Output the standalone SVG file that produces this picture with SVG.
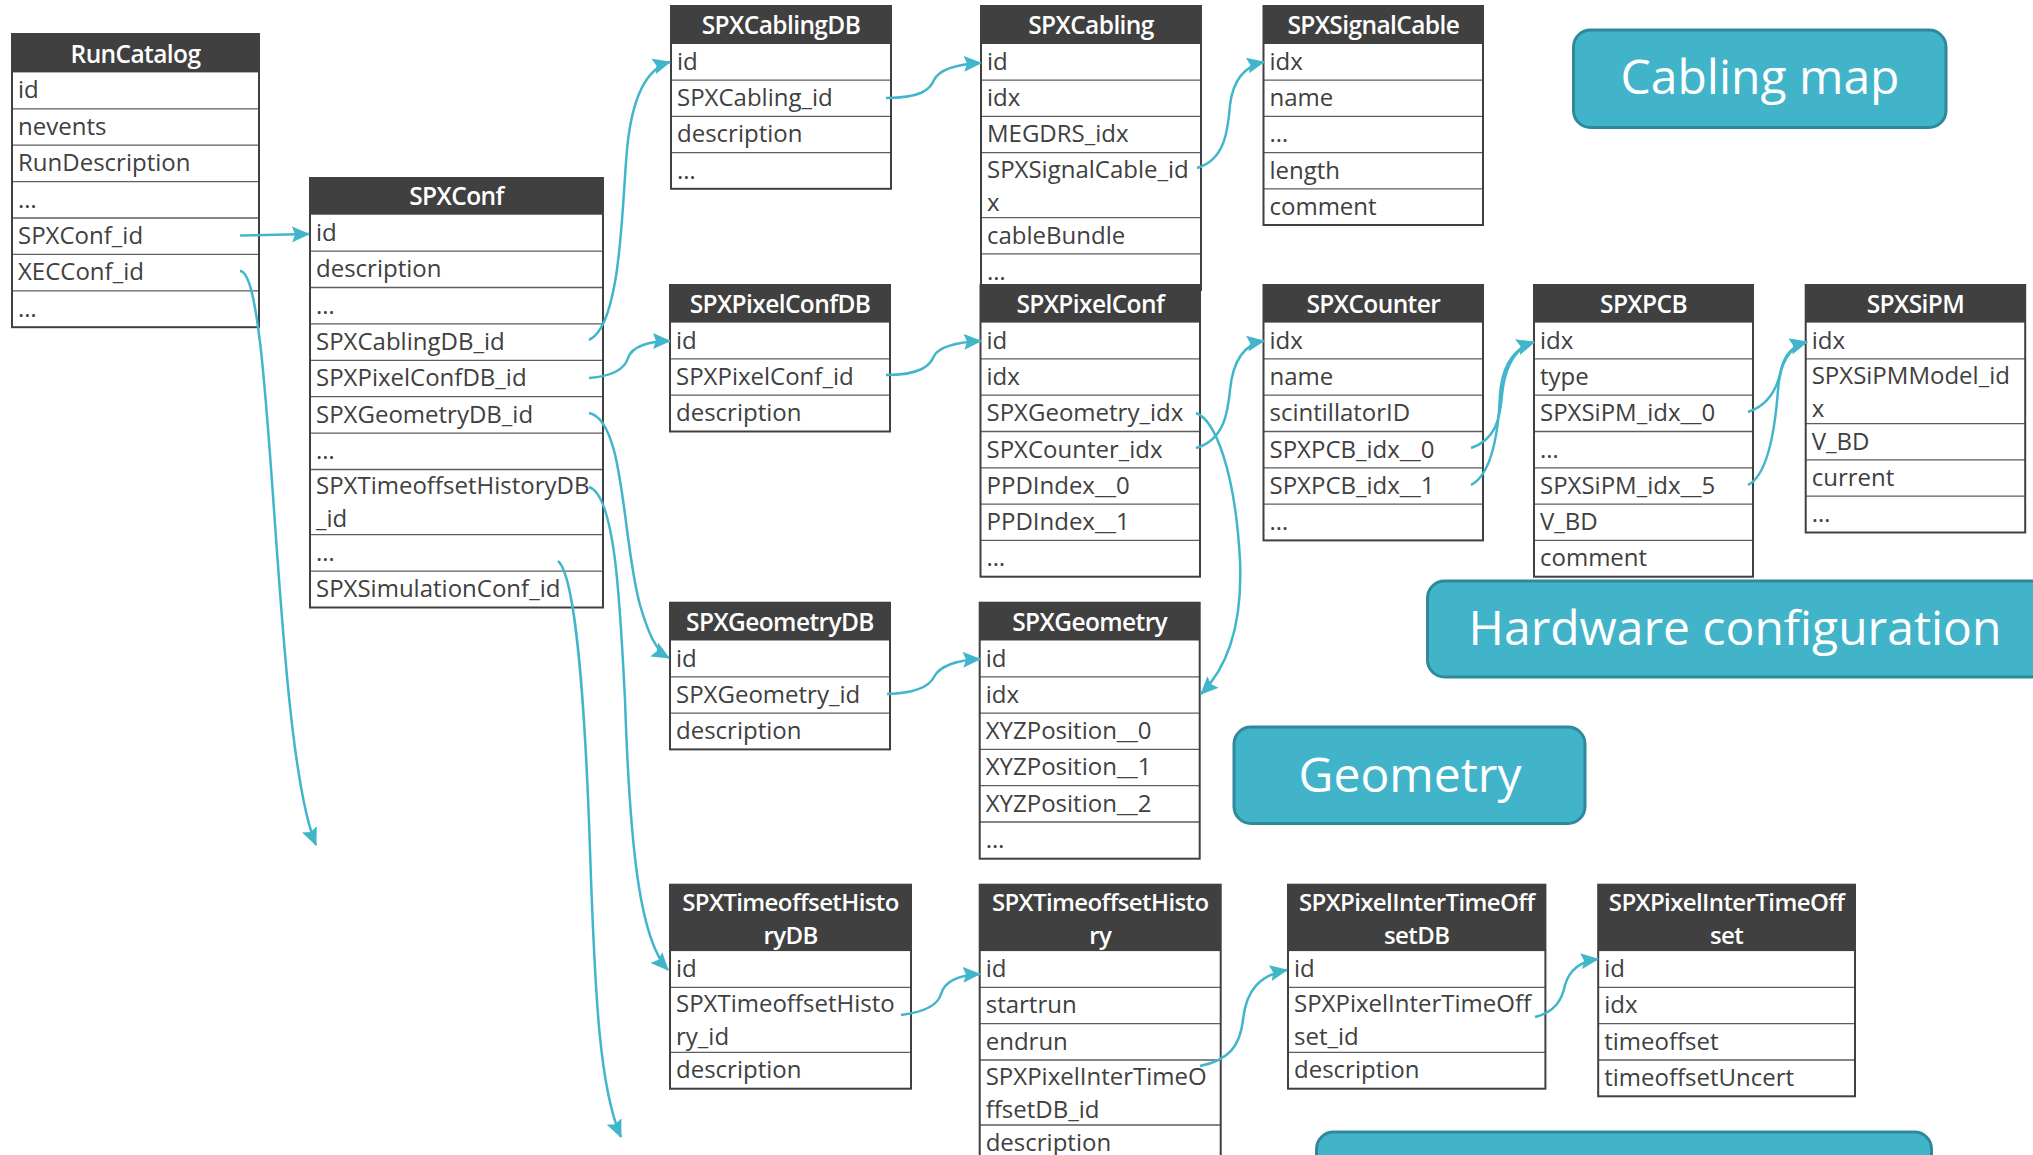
<svg xmlns="http://www.w3.org/2000/svg" width="2033" height="1155" viewBox="0 0 2033 1155">
  <style>
    .bg { fill: #ffffff; }
    .hd { fill: #404040; }
    .fr { fill: none; stroke: #404040; stroke-width: 2; }
    .sep { fill: none; stroke: #5e5e5e; stroke-width: 1.3; }
    .ht { font-family: "Open Sans", "Noto Sans", sans-serif; font-weight: 600; font-size: 24.5px; fill: #ffffff; text-anchor: middle; letter-spacing: -0.6px; }
    .ht2 { font-size: 24px; }
    .ft { font-family: "Open Sans", "Noto Sans", sans-serif; font-weight: 400; font-size: 24px; fill: #404040; }
    .lbl rect { fill: #42b4ca; stroke: #2e8a9b; stroke-width: 3; }
    .lbl text { font-family: "Open Sans", "Noto Sans", sans-serif; font-size: 48px; fill: #ffffff; text-anchor: middle; }
    .conn path { fill: none; stroke: #41b6cb; stroke-width: 2.5; marker-end: url(#arr); }
  </style>
  <defs>
    <marker id="arr" markerUnits="userSpaceOnUse" viewBox="0 0 18 16" markerWidth="18" markerHeight="16" refX="17" refY="8" orient="auto">
      <path d="M0,0 L18,8 L0,16 L3,8 z" fill="#41b6cb"/>
    </marker>
  </defs>

  <!-- category labels -->
  <g id="label-cabling" class="lbl">
    <rect x="1573.5" y="30" width="372.5" height="97.5" rx="17"/>
    <text x="1760" y="94">Cabling map</text>
  </g>
  <g id="label-hardware" class="lbl">
    <rect x="1427.5" y="581" width="640" height="96" rx="17"/>
    <text x="1735" y="645">Hardware configuration</text>
  </g>
  <g id="label-geometry" class="lbl">
    <rect x="1234" y="727" width="351" height="96.5" rx="17"/>
    <text x="1410" y="792">Geometry</text>
  </g>
  <g id="label-bottom" class="lbl">
    <rect x="1316.5" y="1132" width="615" height="96" rx="17"/>
  </g>

  <!-- tables -->
  <g id="runcatalog">
    <rect class="bg" x="12" y="34" width="247" height="293.2"/>
    <rect class="hd" x="12" y="34" width="247" height="38.4"/>
    <path class="sep" d="M12,108.8H259M12,145.2H259M12,181.6H259M12,218H259M12,254.4H259M12,290.8H259"/>
    <rect class="fr" x="12" y="34" width="247" height="293.2"/>
    <text class="ht" x="135.5" y="62.5">RunCatalog</text>
    <text class="ft" x="18" y="98.4">id</text>
    <text class="ft" x="18" y="134.8">nevents</text>
    <text class="ft" x="18" y="171.2">RunDescription</text>
    <text class="ft" x="18" y="207.6">…</text>
    <text class="ft" x="18" y="244">SPXConf_id</text>
    <text class="ft" x="18" y="280.4">XECConf_id</text>
    <text class="ft" x="18" y="316.8">…</text>
  </g>

  <g id="spxconf">
    <rect class="bg" x="310" y="178" width="293" height="429.5"/>
    <rect class="hd" x="310" y="178" width="293" height="36.7"/>
    <path class="sep" d="M310,251.1H603M310,287.5H603M310,323.9H603M310,360.3H603M310,396.7H603M310,433.1H603M310,469.5H603M310,534.7H603M310,571.1H603"/>
    <rect class="fr" x="310" y="178" width="293" height="429.5"/>
    <text class="ht" x="456.5" y="205.4">SPXConf</text>
    <text class="ft" x="316" y="240.7">id</text>
    <text class="ft" x="316" y="277.1">description</text>
    <text class="ft" x="316" y="313.5">…</text>
    <text class="ft" x="316" y="349.9">SPXCablingDB_id</text>
    <text class="ft" x="316" y="386.3">SPXPixelConfDB_id</text>
    <text class="ft" x="316" y="422.7">SPXGeometryDB_id</text>
    <text class="ft" x="316" y="459.1">…</text>
    <text class="ft" x="316" y="494"><tspan x="316">SPXTimeoffsetHistoryDB</tspan><tspan x="316" dy="33">_id</tspan></text>
    <text class="ft" x="316" y="560.7">…</text>
    <text class="ft" x="316" y="597.1">SPXSimulationConf_id</text>
  </g>

  <g id="spxcablingdb">
    <rect class="bg" x="671" y="6" width="220" height="182.8"/>
    <rect class="hd" x="671" y="6" width="220" height="38"/>
    <path class="sep" d="M671,80.2H891M671,116.4H891M671,152.6H891"/>
    <rect class="fr" x="671" y="6" width="220" height="182.8"/>
    <text class="ht" x="781" y="34">SPXCablingDB</text>
    <text class="ft" x="677" y="70">id</text>
    <text class="ft" x="677" y="106.2">SPXCabling_id</text>
    <text class="ft" x="677" y="142.4">description</text>
    <text class="ft" x="677" y="178.6">…</text>
  </g>

  <g id="spxcabling">
    <rect class="bg" x="981" y="6" width="220" height="284"/>
    <rect class="hd" x="981" y="6" width="220" height="38"/>
    <path class="sep" d="M981,80.2H1201M981,116.4H1201M981,152.6H1201M981,217.6H1201M981,253.8H1201"/>
    <rect class="fr" x="981" y="6" width="220" height="284"/>
    <text class="ht" x="1091" y="34">SPXCabling</text>
    <text class="ft" x="987" y="70">id</text>
    <text class="ft" x="987" y="106.2">idx</text>
    <text class="ft" x="987" y="142.4">MEGDRS_idx</text>
    <text class="ft" x="987" y="177.5"><tspan x="987">SPXSignalCable_id</tspan><tspan x="987" dy="33">x</tspan></text>
    <text class="ft" x="987" y="243.6">cableBundle</text>
    <text class="ft" x="987" y="279.8">…</text>
  </g>

  <g id="spxsignalcable">
    <rect class="bg" x="1263.5" y="6" width="219.5" height="219"/>
    <rect class="hd" x="1263.5" y="6" width="219.5" height="38"/>
    <path class="sep" d="M1263.5,80.2H1483M1263.5,116.4H1483M1263.5,152.6H1483M1263.5,188.8H1483"/>
    <rect class="fr" x="1263.5" y="6" width="219.5" height="219"/>
    <text class="ht" x="1373.3" y="34">SPXSignalCable</text>
    <text class="ft" x="1269.5" y="70">idx</text>
    <text class="ft" x="1269.5" y="106.2">name</text>
    <text class="ft" x="1269.5" y="142.4">…</text>
    <text class="ft" x="1269.5" y="178.6">length</text>
    <text class="ft" x="1269.5" y="214.8">comment</text>
  </g>

  <g id="spxpixelconfdb">
    <rect class="bg" x="670" y="285" width="220" height="146.5"/>
    <rect class="hd" x="670" y="285" width="220" height="37.6"/>
    <path class="sep" d="M670,358.9H890M670,395.2H890"/>
    <rect class="fr" x="670" y="285" width="220" height="146.5"/>
    <text class="ht" x="780" y="312.8">SPXPixelConfDB</text>
    <text class="ft" x="676" y="348.6">id</text>
    <text class="ft" x="676" y="384.9">SPXPixelConf_id</text>
    <text class="ft" x="676" y="421.2">description</text>
  </g>

  <g id="spxpixelconf">
    <rect class="bg" x="980.5" y="285" width="219.5" height="291.7"/>
    <rect class="hd" x="980.5" y="285" width="219.5" height="37.6"/>
    <path class="sep" d="M980.5,358.9H1200M980.5,395.2H1200M980.5,431.5H1200M980.5,467.8H1200M980.5,504.1H1200M980.5,540.4H1200"/>
    <rect class="fr" x="980.5" y="285" width="219.5" height="291.7"/>
    <text class="ht" x="1090.3" y="312.8">SPXPixelConf</text>
    <text class="ft" x="986.5" y="348.6">id</text>
    <text class="ft" x="986.5" y="384.9">idx</text>
    <text class="ft" x="986.5" y="421.2">SPXGeometry_idx</text>
    <text class="ft" x="986.5" y="457.5">SPXCounter_idx</text>
    <text class="ft" x="986.5" y="493.8">PPDIndex__0</text>
    <text class="ft" x="986.5" y="530.1">PPDIndex__1</text>
    <text class="ft" x="986.5" y="566.4">…</text>
  </g>

  <g id="spxcounter">
    <rect class="bg" x="1263.5" y="285" width="219.5" height="255.4"/>
    <rect class="hd" x="1263.5" y="285" width="219.5" height="37.6"/>
    <path class="sep" d="M1263.5,358.9H1483M1263.5,395.2H1483M1263.5,431.5H1483M1263.5,467.8H1483M1263.5,504.1H1483"/>
    <rect class="fr" x="1263.5" y="285" width="219.5" height="255.4"/>
    <text class="ht" x="1373.3" y="312.8">SPXCounter</text>
    <text class="ft" x="1269.5" y="348.6">idx</text>
    <text class="ft" x="1269.5" y="384.9">name</text>
    <text class="ft" x="1269.5" y="421.2">scintillatorID</text>
    <text class="ft" x="1269.5" y="457.5">SPXPCB_idx__0</text>
    <text class="ft" x="1269.5" y="493.8">SPXPCB_idx__1</text>
    <text class="ft" x="1269.5" y="530.1">…</text>
  </g>

  <g id="spxpcb">
    <rect class="bg" x="1534" y="285" width="219" height="291.7"/>
    <rect class="hd" x="1534" y="285" width="219" height="37.6"/>
    <path class="sep" d="M1534,358.9H1753M1534,395.2H1753M1534,431.5H1753M1534,467.8H1753M1534,504.1H1753M1534,540.4H1753"/>
    <rect class="fr" x="1534" y="285" width="219" height="291.7"/>
    <text class="ht" x="1643.5" y="312.8">SPXPCB</text>
    <text class="ft" x="1540" y="348.6">idx</text>
    <text class="ft" x="1540" y="384.9">type</text>
    <text class="ft" x="1540" y="421.2">SPXSiPM_idx__0</text>
    <text class="ft" x="1540" y="457.5">…</text>
    <text class="ft" x="1540" y="493.8">SPXSiPM_idx__5</text>
    <text class="ft" x="1540" y="530.1">V_BD</text>
    <text class="ft" x="1540" y="566.4">comment</text>
  </g>

  <g id="spxsipm">
    <rect class="bg" x="1805.7" y="285" width="219.5" height="247.5"/>
    <rect class="hd" x="1805.7" y="285" width="219.5" height="37.6"/>
    <path class="sep" d="M1805.7,358.9H2025.2M1805.7,423.6H2025.2M1805.7,459.9H2025.2M1805.7,496.2H2025.2"/>
    <rect class="fr" x="1805.7" y="285" width="219.5" height="247.5"/>
    <text class="ht" x="1915.5" y="312.8">SPXSiPM</text>
    <text class="ft" x="1811.7" y="348.6">idx</text>
    <text class="ft" x="1811.7" y="384"><tspan x="1811.7">SPXSiPMModel_id</tspan><tspan x="1811.7" dy="33">x</tspan></text>
    <text class="ft" x="1811.7" y="449.6">V_BD</text>
    <text class="ft" x="1811.7" y="485.9">current</text>
    <text class="ft" x="1811.7" y="522.2">…</text>
  </g>

  <g id="spxgeometrydb">
    <rect class="bg" x="670" y="602.7" width="220" height="146.7"/>
    <rect class="hd" x="670" y="602.7" width="220" height="37.8"/>
    <path class="sep" d="M670,676.8H890M670,713.1H890"/>
    <rect class="fr" x="670" y="602.7" width="220" height="146.7"/>
    <text class="ht" x="780" y="630.6">SPXGeometryDB</text>
    <text class="ft" x="676" y="666.5">id</text>
    <text class="ft" x="676" y="702.8">SPXGeometry_id</text>
    <text class="ft" x="676" y="739.1">description</text>
  </g>

  <g id="spxgeometry">
    <rect class="bg" x="979.7" y="602.7" width="220" height="256"/>
    <rect class="hd" x="979.7" y="602.7" width="220" height="37.8"/>
    <path class="sep" d="M979.7,676.8H1199.7M979.7,713.1H1199.7M979.7,749.4H1199.7M979.7,785.7H1199.7M979.7,822H1199.7"/>
    <rect class="fr" x="979.7" y="602.7" width="220" height="256"/>
    <text class="ht" x="1089.7" y="630.6">SPXGeometry</text>
    <text class="ft" x="985.7" y="666.5">id</text>
    <text class="ft" x="985.7" y="702.8">idx</text>
    <text class="ft" x="985.7" y="739.1">XYZPosition__0</text>
    <text class="ft" x="985.7" y="775.4">XYZPosition__1</text>
    <text class="ft" x="985.7" y="811.7">XYZPosition__2</text>
    <text class="ft" x="985.7" y="848">…</text>
  </g>

  <g id="spxtimeoffsethistorydb">
    <rect class="bg" x="670" y="884.7" width="241" height="204"/>
    <rect class="hd" x="670" y="884.7" width="241" height="66.4"/>
    <path class="sep" d="M670,987.4H911M670,1052.4H911"/>
    <rect class="fr" x="670" y="884.7" width="241" height="204"/>
    <text class="ht ht2" x="790.5" y="910.5"><tspan x="790.5">SPXTimeoffsetHisto</tspan><tspan x="790.5" dy="33">ryDB</tspan></text>
    <text class="ft" x="676" y="977.1">id</text>
    <text class="ft" x="676" y="1012"><tspan x="676">SPXTimeoffsetHisto</tspan><tspan x="676" dy="33">ry_id</tspan></text>
    <text class="ft" x="676" y="1078.4">description</text>
  </g>

  <g id="spxtimeoffsethistory">
    <rect class="bg" x="979.7" y="884.7" width="241" height="276.6"/>
    <rect class="hd" x="979.7" y="884.7" width="241" height="66.4"/>
    <path class="sep" d="M979.7,987.4H1220.7M979.7,1023.7H1220.7M979.7,1060H1220.7M979.7,1125H1220.7"/>
    <rect class="fr" x="979.7" y="884.7" width="241" height="276.6"/>
    <text class="ht ht2" x="1100.2" y="910.5"><tspan x="1100.2">SPXTimeoffsetHisto</tspan><tspan x="1100.2" dy="33">ry</tspan></text>
    <text class="ft" x="985.7" y="977.1">id</text>
    <text class="ft" x="985.7" y="1013.4">startrun</text>
    <text class="ft" x="985.7" y="1049.7">endrun</text>
    <text class="ft" x="985.7" y="1085"><tspan x="985.7">SPXPixelInterTimeO</tspan><tspan x="985.7" dy="33">ffsetDB_id</tspan></text>
    <text class="ft" x="985.7" y="1151">description</text>
  </g>

  <g id="spxpixelintertimeoffsetdb">
    <rect class="bg" x="1288" y="884.7" width="257.4" height="204"/>
    <rect class="hd" x="1288" y="884.7" width="257.4" height="66.4"/>
    <path class="sep" d="M1288,987.4H1545.4M1288,1052.4H1545.4"/>
    <rect class="fr" x="1288" y="884.7" width="257.4" height="204"/>
    <text class="ht ht2" x="1416.7" y="910.5"><tspan x="1416.7">SPXPixelInterTimeOff</tspan><tspan x="1416.7" dy="33">setDB</tspan></text>
    <text class="ft" x="1294" y="977.1">id</text>
    <text class="ft" x="1294" y="1012"><tspan x="1294">SPXPixelInterTimeOff</tspan><tspan x="1294" dy="33">set_id</tspan></text>
    <text class="ft" x="1294" y="1078.4">description</text>
  </g>

  <g id="spxpixelintertimeoffset">
    <rect class="bg" x="1598.2" y="884.7" width="256.8" height="211.6"/>
    <rect class="hd" x="1598.2" y="884.7" width="256.8" height="66.4"/>
    <path class="sep" d="M1598.2,987.4H1855M1598.2,1023.7H1855M1598.2,1060H1855"/>
    <rect class="fr" x="1598.2" y="884.7" width="256.8" height="211.6"/>
    <text class="ht ht2" x="1726.6" y="910.5"><tspan x="1726.6">SPXPixelInterTimeOff</tspan><tspan x="1726.6" dy="33">set</tspan></text>
    <text class="ft" x="1604.2" y="977.1">id</text>
    <text class="ft" x="1604.2" y="1013.4">idx</text>
    <text class="ft" x="1604.2" y="1049.7">timeoffset</text>
    <text class="ft" x="1604.2" y="1086">timeoffsetUncert</text>
  </g>

  <!-- foreign-key connectors -->
  <g id="connectors" class="conn">
    <path d="M240,235.5 L309,234"/>
    <path d="M240,271 C275,271 272,740 316,845"/>
    <path d="M589,340 C622,325 622,200 627,150 C632,95 648,68 670,62"/>
    <path d="M589,378 C615,376 625,368 628,358 C632,346 650,341 670,341"/>
    <path d="M589,413 C625,420 622,540 640,605 C648,632 655,650 669,658"/>
    <path d="M589,487 C615,495 620,600 625,700 C630,850 640,940 668,970"/>
    <path d="M558,561 C575,575 585,700 590,850 C595,1000 600,1090 621,1137"/>
    <path d="M886,98 C920,98 930,90 934,80 C940,68 960,64 981,63"/>
    <path d="M1197,168 C1225,160 1228,130 1230,105 C1233,80 1245,66 1264,62"/>
    <path d="M886,375 C920,375 930,366 934,356 C940,345 960,342 981,341"/>
    <path d="M1196,448 C1225,440 1228,410 1230,390 C1233,360 1245,344 1264,341"/>
    <path d="M1196,413 C1215,420 1235,470 1240,560 C1243,630 1225,670 1201,694"/>
    <path d="M1471,448 C1495,440 1500,420 1502,395 C1505,365 1515,348 1534,342"/>
    <path d="M1471,485 C1490,475 1498,440 1500,395 C1502,365 1515,348 1534,342"/>
    <path d="M1748,412 C1770,405 1778,385 1781,370 C1785,352 1795,345 1807,342"/>
    <path d="M1748,485 C1768,475 1775,430 1778,390 C1780,360 1792,346 1807,342"/>
    <path d="M887,694 C920,693 930,685 934,677 C940,665 960,660 980,659"/>
    <path d="M901,1015 C925,1012 938,1005 941,994 C945,980 960,975 980,974"/>
    <path d="M1200,1066 C1230,1060 1240,1045 1243,1020 C1246,990 1260,975 1287,970"/>
    <path d="M1535,1017 C1555,1012 1562,1000 1565,985 C1570,968 1582,961 1598,959"/>
  </g>
</svg>
